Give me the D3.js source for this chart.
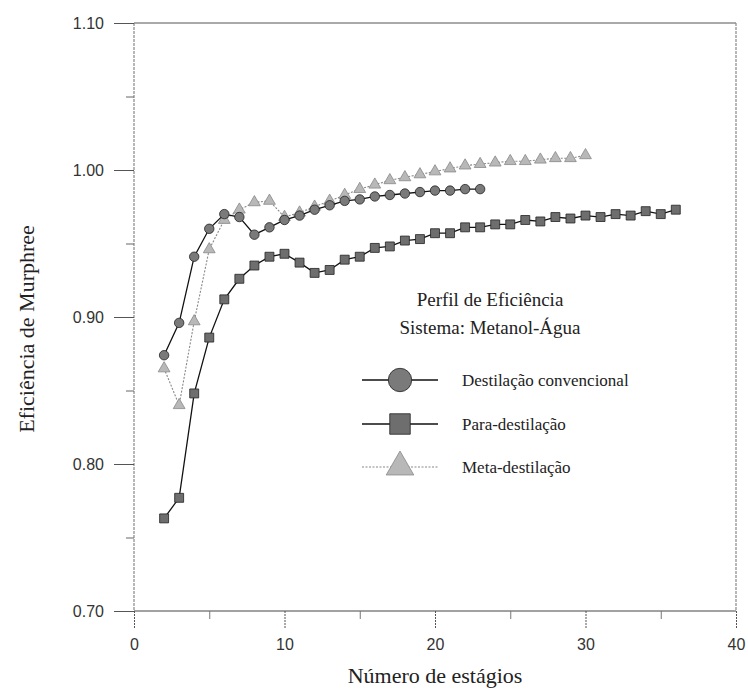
<!DOCTYPE html>
<html>
<head>
<meta charset="utf-8">
<script src="https://cdn.jsdelivr.net/npm/d3@7"></script>
<style>
  html, body { margin: 0; padding: 0; background: #fff; }
  svg { display: block; }
</style>
</head>
<body>
<svg id="chart" width="748" height="689"></svg>
<script>
// Murphree efficiency profile per stage, methanol-water system
const stagesConv = d3.range(2, 24);
const effConv = [0.874, 0.896, 0.941, 0.960, 0.970, 0.968, 0.956, 0.961, 0.966, 0.969,
  0.973, 0.976, 0.979, 0.980, 0.982, 0.983, 0.984, 0.985, 0.986, 0.986, 0.987, 0.987];

const stagesPara = d3.range(2, 37);
const effPara = [0.763, 0.777, 0.848, 0.886, 0.912, 0.926, 0.935, 0.941, 0.943, 0.937,
  0.930, 0.932, 0.939, 0.941, 0.947, 0.948, 0.952, 0.953, 0.957, 0.957,
  0.961, 0.961, 0.963, 0.963, 0.966, 0.965, 0.968, 0.967, 0.969, 0.968,
  0.970, 0.969, 0.972, 0.970, 0.973];

const stagesMeta = d3.range(2, 31);
const effMeta = [0.865, 0.840, 0.897, 0.946, 0.966, 0.973, 0.978, 0.979, 0.968, 0.971,
  0.975, 0.979, 0.983, 0.987, 0.990, 0.993, 0.995, 0.997, 0.999, 1.001,
  1.003, 1.004, 1.005, 1.006, 1.006, 1.007, 1.008, 1.008, 1.010];

const seriesNames = ["Destilação convencional", "Para-destilação", "Meta-destilação"];
const xTicks = [0, 10, 20, 30, 40];
const yTicks = [0.70, 0.80, 0.90, 1.00, 1.10];
const xMinor = [5, 15, 25, 35];
const yMinor = [0.75, 0.85, 0.95, 1.05];

const svg = d3.select("#chart");
const L = 134, R = 736, T = 23, B = 611;
const x = d3.scaleLinear().domain([0, 40]).range([L, R]);
const y = d3.scaleLinear().domain([0.70, 1.10]).range([B, T]);

const serif = "'Liberation Serif', 'Times New Roman', serif";
const sans = "'Liberation Sans', Arial, sans-serif";

// frame
const frame = svg.append("g");
frame.append("line").attr("x1", L).attr("x2", R).attr("y1", T).attr("y2", T)
  .attr("stroke", "#555").attr("stroke-width", 1);
frame.append("line").attr("x1", L).attr("x2", R).attr("y1", B).attr("y2", B)
  .attr("stroke", "#444").attr("stroke-width", 1);
frame.append("line").attr("x1", L).attr("x2", L).attr("y1", T).attr("y2", B)
  .attr("stroke", "#888").attr("stroke-width", 1.2).attr("stroke-dasharray", "3,1");
frame.append("line").attr("x1", R).attr("x2", R).attr("y1", T).attr("y2", B)
  .attr("stroke", "#888").attr("stroke-width", 1.2).attr("stroke-dasharray", "3,1");

// bottom axis
const xAxis = d3.axisBottom(x).tickValues(xTicks).tickSize(18).tickPadding(10)
  .tickFormat(d3.format("d"));
const gx = svg.append("g").attr("transform", `translate(0,${B})`).call(xAxis);
gx.select(".domain").remove();
gx.selectAll(".tick line").attr("stroke", "#555").attr("stroke-dasharray", "2,1");
gx.selectAll(".tick text").attr("font-family", sans).attr("font-size", 16).attr("fill", "#333");
const gxm = svg.append("g").attr("transform", `translate(0,${B})`)
  .call(d3.axisBottom(x).tickValues(xMinor).tickSize(8).tickFormat(""));
gxm.select(".domain").remove();
gxm.selectAll(".tick line").attr("stroke", "#777");

// left axis
const yAxis = d3.axisLeft(y).tickValues(yTicks).tickSize(20).tickPadding(10)
  .tickFormat(d3.format(".2f"));
const gy = svg.append("g").attr("transform", `translate(${L},0)`).call(yAxis);
gy.select(".domain").remove();
gy.selectAll(".tick line").attr("stroke", "#555");
gy.selectAll(".tick text").attr("font-family", sans).attr("font-size", 16).attr("fill", "#333");
const gym = svg.append("g").attr("transform", `translate(${L},0)`)
  .call(d3.axisLeft(y).tickValues(yMinor).tickSize(8).tickFormat(""));
gym.select(".domain").remove();
gym.selectAll(".tick line").attr("stroke", "#666");

// axis titles
svg.append("text").attr("x", (L + R) / 2).attr("y", 683)
  .attr("text-anchor", "middle").attr("font-family", serif).attr("font-size", 22)
  .attr("fill", "#222").text("Número de estágios");
svg.append("text").attr("transform", `translate(34,${(T + B) / 2 + 12}) rotate(-90)`)
  .attr("text-anchor", "middle").attr("font-family", serif).attr("font-size", 22)
  .attr("fill", "#222").text("Eficiência de Murphree");

// marker shapes
const styles = [
  { line: "#111", dash: null, lw: 1.3, fill: "#7a7a7a", stroke: "#222", shape: d3.symbolCircle, size: 70, legSize: 430 },
  { line: "#111", dash: null, lw: 1.3, fill: "#6e6e6e", stroke: "#222", shape: d3.symbolSquare, size: 80, legSize: 420 },
  { line: "#888", dash: "2,1.5", lw: 1.1, fill: "#b8b8b8", stroke: "#888", shape: d3.symbolTriangle, size: 60, legSize: 330 }
];

const data = [
  stagesConv.map((s, i) => [s, effConv[i]]),
  stagesPara.map((s, i) => [s, effPara[i]]),
  stagesMeta.map((s, i) => [s, effMeta[i]])
];

const line = d3.line().x(d => x(d[0])).y(d => y(d[1]));

[2, 1, 0].forEach(k => {
  const st = styles[k];
  const g = svg.append("g");
  g.append("path").datum(data[k]).attr("d", line).attr("fill", "none")
    .attr("stroke", st.line).attr("stroke-width", st.lw)
    .attr("stroke-dasharray", st.dash);
  g.selectAll("path.m").data(data[k]).enter().append("path").attr("class", "m")
    .attr("transform", d => `translate(${x(d[0])},${y(d[1])})`)
    .attr("d", d3.symbol().type(st.shape).size(st.size))
    .attr("fill", st.fill).attr("stroke", st.stroke).attr("stroke-width", 0.8);
});

// legend
const leg = svg.append("g");
leg.append("text").attr("x", 490).attr("y", 306).attr("text-anchor", "middle")
  .attr("font-family", serif).attr("font-size", 19).attr("fill", "#222")
  .text("Perfil de Eficiência");
leg.append("text").attr("x", 490).attr("y", 334).attr("text-anchor", "middle")
  .attr("font-family", serif).attr("font-size", 19).attr("fill", "#222")
  .text("Sistema: Metanol-Água");
const legY = [380, 424, 467];
seriesNames.forEach((name, k) => {
  const st = styles[k];
  const yy = legY[k];
  leg.append("line").attr("x1", 362).attr("x2", 438).attr("y1", yy).attr("y2", yy)
    .attr("stroke", st.line).attr("stroke-width", st.lw).attr("stroke-dasharray", st.dash);
  leg.append("path").attr("transform", `translate(400,${yy})`)
    .attr("d", d3.symbol().type(st.shape).size(st.legSize))
    .attr("fill", st.fill).attr("stroke", st.stroke).attr("stroke-width", 0.8);
  leg.append("text").attr("x", 462).attr("y", yy + 6)
    .attr("font-family", serif).attr("font-size", 17).attr("fill", "#222").text(name);
});
</script>
</body>
</html>
